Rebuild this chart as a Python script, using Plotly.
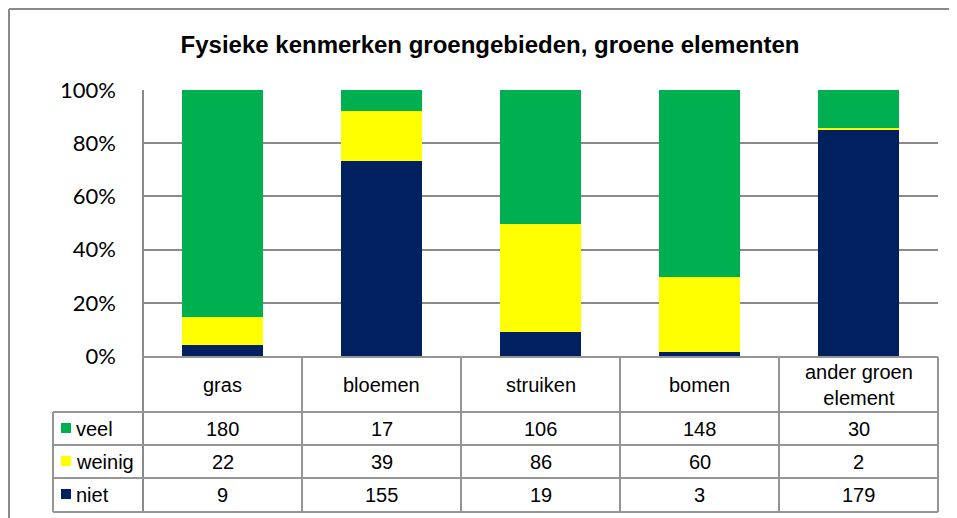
import plotly.graph_objects as go

# data
categories = ["gras", "bloemen", "struiken", "bomen", "ander groen<br>element"]
series_names = ["veel", "weinig", "niet"]
veel = [180, 17, 106, 148, 30]
weinig = [22, 39, 86, 60, 2]
niet = [9, 155, 19, 3, 179]
colors = {"veel": "#00B050", "weinig": "#FFFF00", "niet": "#002060"}
values = {"veel": veel, "weinig": weinig, "niet": niet}

# the page body has an 8px margin, so the figure is sized to fit behind it
OFF = 8
W, H = 957 - OFF, 518 - OFF


def px(x):
    return (x - OFF) / W


def py(y):
    return 1 - (y - OFF) / H


GRID = "#8a8a8a"
FONT = "Liberation Sans, Arial, sans-serif"

fig = go.Figure()

# stacked bars, bottom to top: niet, weinig, veel
for name in ["niet", "weinig", "veel"]:
    fig.add_trace(go.Bar(
        x=list(range(len(categories))),
        y=values[name],
        name=name,
        marker=dict(color=colors[name], line=dict(width=0)),
        width=0.51,
    ))

fig.update_layout(
    width=W, height=H,
    autosize=False,
    margin=dict(l=0, r=0, t=0, b=0, pad=0, autoexpand=False),
    paper_bgcolor="white",
    plot_bgcolor="white",
    barmode="stack",
    barnorm="percent",
    showlegend=False,
    title=dict(
        text="<b>Fysieke kenmerken groengebieden, groene elementen</b>",
        x=px(490), xanchor="center", y=py(45), yanchor="middle",
        font=dict(family=FONT, size=24, color="black"),
        automargin=False,
    ),
    xaxis=dict(
        domain=[px(143), px(938)],
        range=[-0.5, len(categories) - 0.5],
        showticklabels=False, showgrid=False, zeroline=False,
        automargin=False,
    ),
    yaxis=dict(
        domain=[py(356), py(90)],
        range=[0, 100],
        tickvals=[0, 20, 40, 60, 80, 100],
        ticktext=["0%", "20%", "40%", "60%", "80%", "100%"],
        ticks="", ticklabelstandoff=26,
        tickfont=dict(family="Lato, Calibri, sans-serif", size=22, color="black"),
        showgrid=True, gridcolor=GRID, gridwidth=2,
        zeroline=False, automargin=False,
    ),
)

shapes = []
line = dict(color="#959595", width=2)

# outer chart border (only top and left edges fall inside the picture)
border = dict(color="#8a8a8a", width=2)
shapes.append(dict(type="line", xref="paper", yref="paper",
                   x0=px(9), x1=1, y0=py(9), y1=py(9), line=border))
shapes.append(dict(type="line", xref="paper", yref="paper",
                   x0=px(9), x1=px(9), y0=py(9), y1=0, line=border))

# vertical axis line through the table
shapes.append(dict(type="line", xref="paper", yref="paper",
                   x0=px(143), x1=px(143), y0=py(90), y1=py(512),
                   line=dict(color=GRID, width=2)))

# data table lines
row_lines = [357, 412, 445, 478, 512]
col_lines = [143, 302, 461, 620, 779, 938]
for i, y in enumerate(row_lines):
    x0 = 143 if i == 0 else 53
    shapes.append(dict(type="line", xref="paper", yref="paper",
                       x0=px(x0), x1=px(938), y0=py(y), y1=py(y), line=line))
for x in col_lines[1:]:
    shapes.append(dict(type="line", xref="paper", yref="paper",
                       x0=px(x), x1=px(x), y0=py(357), y1=py(512), line=line))
shapes.append(dict(type="line", xref="paper", yref="paper",
                   x0=px(53), x1=px(53), y0=py(412), y1=py(512), line=line))

annotations = []
tfont = dict(family=FONT, size=20, color="black")

# category labels
for i, c in enumerate(categories):
    xc = (col_lines[i] + col_lines[i + 1]) / 2
    annotations.append(dict(text=c, xref="paper", yref="paper", x=px(xc), y=py(385),
                            xanchor="center", yanchor="middle", showarrow=False,
                            font=tfont))

# rows
row_centers = [429, 462, 495]
for r, name in enumerate(series_names):
    yc = row_centers[r]
    shapes.append(dict(type="rect", xref="paper", yref="paper",
                       x0=px(61), x1=px(71), y0=py(yc - 6), y1=py(yc + 4),
                       fillcolor=colors[name], line=dict(width=0)))
    annotations.append(dict(text=name, xref="paper", yref="paper", x=px(74), y=py(yc),
                            xanchor="left", yanchor="middle", showarrow=False, font=tfont))
    for i, v in enumerate(values[name]):
        xc = (col_lines[i] + col_lines[i + 1]) / 2
        annotations.append(dict(text=str(v), xref="paper", yref="paper", x=px(xc), y=py(yc),
                                xanchor="center", yanchor="middle", showarrow=False,
                                font=tfont))

fig.update_layout(shapes=shapes, annotations=annotations)

fig.write_html("out.html")
